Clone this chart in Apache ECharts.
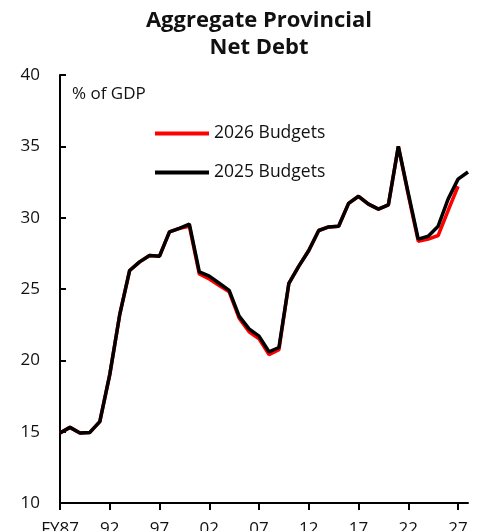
<!DOCTYPE html>
<html><head><meta charset="utf-8">
<script src="https://cdn.jsdelivr.net/npm/echarts@6/dist/echarts.min.js"></script>
<style>html,body{margin:0;padding:0;background:#fff}#c{width:484px;height:531px}</style>
</head><body><div id="c"></div>
<script>
var years = [];
for (var y = 1987; y <= 2028; y++) { years.push(y === 1987 ? 'FY87' : String(y % 100).padStart(2, '0')); }
var budgets2025 = [14.9,15.3,14.9,14.95,15.7,19.0,23.2,26.3,26.9,27.35,27.3,29.0,29.25,29.55,26.2,25.9,25.4,24.9,23.1,22.2,21.7,20.6,20.9,25.4,26.6,27.7,29.1,29.35,29.4,31.0,31.5,30.95,30.6,30.9,35.0,31.7,28.5,28.7,29.4,31.3,32.7,33.2];
var budgets2026 = [14.9,15.3,14.9,14.95,15.7,19.0,23.2,26.3,26.9,27.35,27.3,29.0,29.25,29.4,26.05,25.7,25.25,24.8,22.95,22.0,21.5,20.4,20.75,25.4,26.6,27.7,29.1,29.35,29.4,31.0,31.5,30.95,30.6,30.9,35.0,31.6,28.35,28.5,28.75,30.5,32.2,null];
var yTicks = [10,15,20,25,30,35,40];
var FONT = '"Open Sans", "Noto Sans", sans-serif';
var chart = echarts.init(document.getElementById('c'), null, {renderer:'canvas'});
chart.setOption({
  animation:false,
  backgroundColor:'#fff',
  title:{text:'Aggregate Provincial\nNet Debt', left:254, textAlign:'center', top:2,
    textStyle:{fontFamily:FONT, fontWeight:'bold', fontSize:22, lineHeight:27, color:'#111'}},
  legend:{orient:'vertical', left:155, top:123, padding:0, itemGap:18, itemWidth:54, itemHeight:4, icon:'rect',
    textStyle:{fontFamily:FONT, fontSize:17.5, color:'#111', lineHeight:21},
    data:['2026 Budgets','2025 Budgets']},
  graphic:[{type:'text', left:72, top:86, style:{text:'% of GDP', fontFamily:FONT, fontSize:17, fill:'#111'}}],
  grid:{left:60, right:16, top:75, bottom:28, containLabel:false, outerBoundsMode:'none'},
  xAxis:{type:'category', data:years, boundaryGap:false,
    axisLine:{lineStyle:{color:'#000', width:2}},
    axisTick:{interval:4, length:7, lineStyle:{color:'#000', width:2}},
    axisLabel:{interval:4, margin:18, fontFamily:FONT, fontSize:17, color:'#111'}},
  yAxis:{type:'value', min:yTicks[0], max:yTicks[yTicks.length-1], interval:5,
    splitLine:{show:false},
    axisLine:{show:true, lineStyle:{color:'#000', width:2}},
    axisTick:{show:true, inside:true, length:6, lineStyle:{color:'#000', width:2}},
    axisLabel:{margin:20, fontFamily:FONT, fontSize:17, color:'#111'}},
  series:[
    {name:'2026 Budgets', type:'line', data:budgets2026, showSymbol:false, symbol:'none', z:2,
      lineStyle:{color:'#ff0000', width:3.5}, itemStyle:{color:'#ff0000'}},
    {name:'2025 Budgets', type:'line', data:budgets2025, showSymbol:false, symbol:'none', z:3,
      lineStyle:{color:'#000', width:3.5}, itemStyle:{color:'#000'}}
  ]
});
</script></body></html>
